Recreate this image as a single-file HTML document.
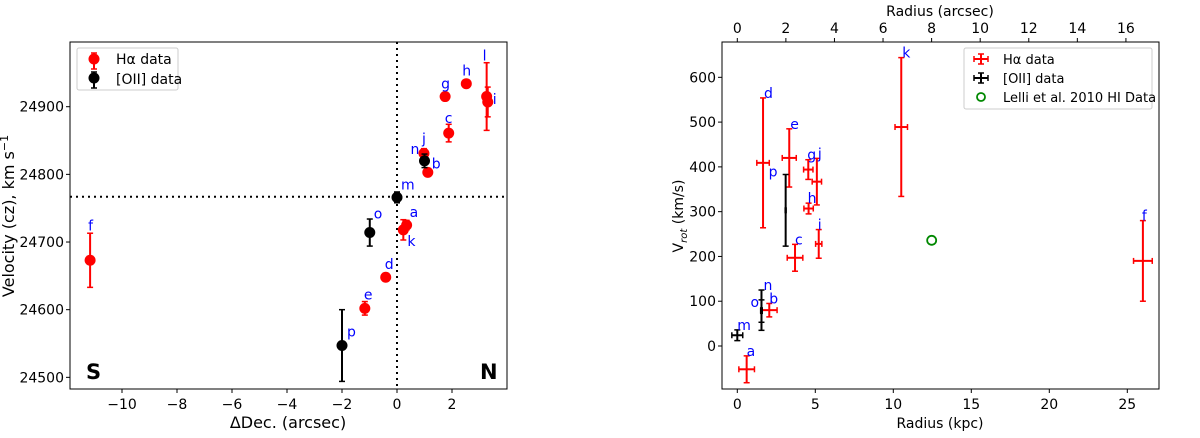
<!DOCTYPE html>
<html><head><meta charset="utf-8"><style>
body{margin:0;background:#fff;}
svg{font-family:"DejaVu Sans","Liberation Sans",sans-serif;}
</style></head><body>
<svg id="c" width="1200" height="433" xmlns="http://www.w3.org/2000/svg"></svg>
<script>
// Left panel data
const haLabels=['a','b','c','d','e','f','g','h','i','j','k','l'];
const haDec=[0.35,1.12,1.88,-0.41,-1.17,-11.16,1.75,2.52,3.30,0.98,0.23,3.26];
const haVel=[24725,24803,24861,24648,24602,24673,24915,24934,24907,24831,24718,24915];
const haVelErr=[7,4,13,4,10,40,4,4,22,7,15,50];
const oiiLabels=['m','n','o','p'];
const oiiDec=[0,1.0,-0.99,-2.0];
const oiiVel=[24766,24820,24714,24547];
const oiiVelErr=[8,10,20,53];
const leftXTicks=[-10,-8,-6,-4,-2,0,2];
const leftYTicks=[24500,24600,24700,24800,24900];
const systemicVel=24767;
// Right panel data
const rLabels=['a','b','c','d','e','f','g','h','i','j','k'];
const rRad=[0.6,2.05,3.7,1.65,3.33,26.0,4.55,4.57,5.22,5.1,10.51];
const rVrot=[-52,80,197,409,420,190,394,307,228,367,489];
const rVerr=[30,15,30,145,65,90,22,12,32,52,155];
const rRerr=[0.5,0.5,0.5,0.4,0.45,0.6,0.3,0.3,0.2,0.3,0.4];
const oLabels=['m','n','o','p'];
const oRad=[0,1.55,1.55,3.1];
const oVrot=[24,80,78,303];
const oVerr=[12,45,25,80];
const oRerr=[0.35,0.05,0.05,0.03];
const hiRad=[12.46];
const hiVrot=[236];
const rightXTicks=[0,5,10,15,20,25];
const rightYTicks=[0,100,200,300,400,500,600];
const topTicks=[0,2,4,6,8,10,12,14,16];
const kpcPerArcsec=1.557;

const S=document.getElementById('c');
const NS='http://www.w3.org/2000/svg';
function mk(tag,attrs,parent,text){const e=document.createElementNS(NS,tag);for(const k in attrs)e.setAttribute(k,attrs[k]);if(text!==undefined)e.textContent=text;(parent||S).appendChild(e);return e;}

// Left axes
const L={x0:70,x1:507,y0:42,y1:389};
const lx=v=>397+v*27.5;
const ly=v=>106.7-(v-24900)*0.6766;
const gL=mk('g',{});


mk('line',{x1:lx(0),x2:lx(0),y1:L.y0,y2:L.y1,stroke:'#000','stroke-width':2,'stroke-dasharray':'2,4'},gL);
mk('line',{x1:L.x0,x2:L.x1,y1:ly(systemicVel),y2:ly(systemicVel),stroke:'#000','stroke-width':2,'stroke-dasharray':'2,4'},gL);
leftXTicks.forEach(t=>{const x=lx(t);mk('line',{x1:x,x2:x,y1:L.y1,y2:L.y1+4,stroke:'#000'},gL);
 const e=mk('text',{x:x,y:L.y1+20,'font-size':14,'text-anchor':'middle'},gL,t<0?'\u2212'+(-t):String(t));});
leftYTicks.forEach(t=>{const y=ly(t);mk('line',{x1:L.x0-4,x2:L.x0,y1:y,y2:y,stroke:'#000'},gL);
 const e=mk('text',{x:L.x0-6,y:y+5,'font-size':14,'text-anchor':'end'},gL,String(t));});
function errV(g,x,y0,y1,col,w){mk('line',{x1:x,x2:x,y1:y0,y2:y1,stroke:col,'stroke-width':w||2},g);mk('line',{x1:x-3,x2:x+3,y1:y0,y2:y0,stroke:col,'stroke-width':1.5},g);mk('line',{x1:x-3,x2:x+3,y1:y1,y2:y1,stroke:col,'stroke-width':1.5},g);}
haDec.forEach((d,i)=>{const x=lx(d),y=ly(haVel[i]);errV(gL,x,ly(haVel[i]+haVelErr[i]),ly(haVel[i]-haVelErr[i]),'#f00');
 const c=mk('circle',{cx:x,cy:y,r:5.5,fill:'#f00'},gL);});
oiiDec.forEach((d,i)=>{const x=lx(d),y=ly(oiiVel[i]);errV(gL,x,ly(oiiVel[i]+oiiVelErr[i]),ly(oiiVel[i]-oiiVelErr[i]),'#000');
 const c=mk('circle',{cx:x,cy:y,r:5.5,fill:'#000'},gL);});
const lLabOff={a:[3,-8],b:[4,-4],c:[-4,-10],d:[-1,-8],e:[-1,-9],f:[-2,-30],g:[-4,-8],h:[-4,-8],i:[5,2],j:[-2,-10],k:[4,16],l:[-4,-36],m:[4,-8],n:[-14,-7],o:[4,-14],p:[5,-9]};
function lab(g,x,y,t,off){mk('text',{x:x+off[0],y:y+off[1],'font-size':14,fill:'#00f'},g,t);}
haDec.forEach((d,i)=>lab(gL,lx(d),ly(haVel[i]),haLabels[i],lLabOff[haLabels[i]]));
oiiDec.forEach((d,i)=>lab(gL,lx(d),ly(oiiVel[i]),oiiLabels[i],lLabOff[oiiLabels[i]]));
mk('rect',{x:L.x0,y:L.y0,width:L.x1-L.x0,height:L.y1-L.y0,fill:'none',stroke:'#000','stroke-width':1},gL);
mk('text',{x:86,y:379,'font-size':21,'font-weight':'bold'},gL,'S');
mk('text',{x:480,y:379,'font-size':21,'font-weight':'bold'},gL,'N');
mk('text',{x:288,y:428,'font-size':16,'text-anchor':'middle'},gL,'\u0394Dec. (arcsec)');
const yt=mk('text',{transform:'translate(14,216) rotate(-90)','font-size':16,'text-anchor':'middle'},gL,'Velocity (cz), km s');
mk('tspan',{dy:-6,'font-size':11},yt,'\u22121');
const lg=mk('g',{});


mk('rect',{x:77,y:48,width:101,height:42,fill:'#fff',stroke:'#ccc',rx:2},lg);
errV(lg,94,53,69,'#f00');mk('circle',{cx:94,cy:59,r:5.5,fill:'#f00'},lg);
mk('text',{x:116,y:64,'font-size':14},lg,'H\u03b1 data');
errV(lg,94,72,88,'#000');mk('circle',{cx:94,cy:78,r:5.5,fill:'#000'},lg);
mk('text',{x:116,y:84,'font-size':14},lg,'[OII] data');

// Right axes
const R={x0:722,x1:1159,y0:42,y1:389};
const rx=v=>737.3+v*15.6;
const ry=v=>346-v*0.4478;
const gR=mk('g',{});


rightXTicks.forEach(t=>{const x=rx(t);mk('line',{x1:x,x2:x,y1:R.y1,y2:R.y1+4,stroke:'#000'},gR);mk('text',{x:x,y:R.y1+20,'font-size':14,'text-anchor':'middle'},gR,String(t));});
topTicks.forEach(t=>{const x=rx(t*kpcPerArcsec);mk('line',{x1:x,x2:x,y1:R.y0-4,y2:R.y0,stroke:'#000'},gR);mk('text',{x:x,y:R.y0-9,'font-size':14,'text-anchor':'middle'},gR,String(t));});
rightYTicks.forEach(t=>{const y=ry(t);mk('line',{x1:R.x0-4,x2:R.x0,y1:y,y2:y,stroke:'#000'},gR);mk('text',{x:R.x0-6,y:y+5,'font-size':14,'text-anchor':'end'},gR,String(t));});
function cross(g,x,y,xl,xr,yt,yb,col){errV(g,x,yt,yb,col);mk('line',{x1:xl,x2:xr,y1:y,y2:y,stroke:col,'stroke-width':2},g);mk('line',{x1:xl,x2:xl,y1:y-3,y2:y+3,stroke:col,'stroke-width':1.5},g);mk('line',{x1:xr,x2:xr,y1:y-3,y2:y+3,stroke:col,'stroke-width':1.5},g);}
rRad.forEach((r,i)=>{const gp=mk('g',{},gR);
 cross(gp,rx(r),ry(rVrot[i]),rx(r-rRerr[i]),rx(r+rRerr[i]),ry(rVrot[i]+rVerr[i]),ry(rVrot[i]-rVerr[i]),'#f00');});
oRad.forEach((r,i)=>{const gp=mk('g',{},gR);
 cross(gp,rx(r),ry(oVrot[i]),rx(r-oRerr[i]),rx(r+oRerr[i]),ry(oVrot[i]+oVerr[i]),ry(oVrot[i]-oVerr[i]),'#000');});
hiRad.forEach((r,i)=>{const c=mk('circle',{cx:rx(r),cy:ry(hiVrot[i]),r:4.5,fill:'none',stroke:'#080','stroke-width':1.8},gR);});
// label offsets relative to top of the error bar
const rOff={a:[0,0],b:[0,0],c:[0,0],d:[1,0],e:[1,0],f:[-1,0],g:[-1,0],h:[-1,0],i:[-1,0],j:[1,0],k:[1,0],m:[0,0],n:[2,0],o:[-11,7],p:[-17,2]};
rRad.forEach((r,i)=>lab(gR,rx(r),ry(rVrot[i]+rVerr[i]),rLabels[i],rOff[rLabels[i]]));
oRad.forEach((r,i)=>lab(gR,rx(r),ry(oVrot[i]+oVerr[i]),oLabels[i],rOff[oLabels[i]]));
mk('rect',{x:R.x0,y:R.y0,width:R.x1-R.x0,height:R.y1-R.y0,fill:'none',stroke:'#000','stroke-width':1},gR);
mk('text',{x:940,y:428,'font-size':14,'text-anchor':'middle'},gR,'Radius (kpc)');
mk('text',{x:940,y:16,'font-size':14,'text-anchor':'middle'},gR,'Radius (arcsec)');
const vt=mk('text',{transform:'translate(683,216) rotate(-90)','font-size':14,'text-anchor':'middle'},gR,'V');
mk('tspan',{dy:4,'font-size':10,'font-style':'italic'},vt,'rot');
mk('tspan',{dy:-4},vt,' (km/s)');
const rg=mk('g',{});


mk('rect',{x:964,y:48,width:188,height:61,fill:'#fff',stroke:'#ccc',rx:2},rg);
cross(rg,981,59,974,988,54,64,'#f00');mk('text',{x:1003,y:64,'font-size':13},rg,'H\u03b1 data');
cross(rg,981,78,974,988,73,83,'#000');mk('text',{x:1003,y:83,'font-size':13},rg,'[OII] data');
mk('circle',{cx:981,cy:97,r:4,fill:'none',stroke:'#080','stroke-width':1.8},rg);mk('text',{x:1003,y:102,'font-size':13},rg,'Lelli et al. 2010 HI Data');
</script>
</body></html>
